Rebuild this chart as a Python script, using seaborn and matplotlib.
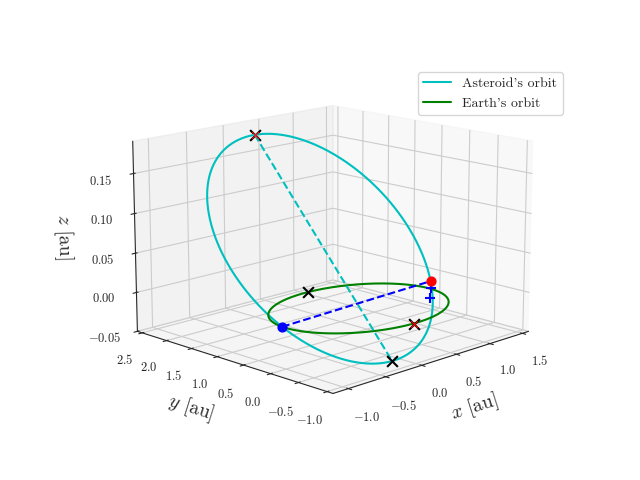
import numpy as np
import matplotlib
matplotlib.use("Agg")
import matplotlib.pyplot as plt
import seaborn as sns

sns.set_style("white")
plt.rcParams["mathtext.fontset"] = "cm"
plt.rcParams["font.family"] = "serif"
plt.rcParams["font.serif"] = ["cmr10"]
plt.rcParams["axes.formatter.use_mathtext"] = True

# orbital elements (asteroid)
q_ast = 0.647          # perihelion distance [au]
Q_ast = 2.2            # aphelion distance [au]
inc_deg = 4.7
node_deg = -4.0
argp_deg = -90.0
# Earth circle radius
r_earth = 1.0
# marker positions
red_dot_u_deg = 5.0            # argument of latitude of the red dot
blue_dot_u_deg = 180.0         # descending node
plus_z = [-0.002, -0.014]
earth_x_theta_deg = [-92.0, 88.0]   # [red-black x, black x] on Earth's orbit

a = (q_ast + Q_ast) / 2
e = (Q_ast - q_ast) / (Q_ast + q_ast)
i = np.radians(inc_deg); O = np.radians(node_deg); w = np.radians(argp_deg)


def orbit(u):
    nu = u - w
    r = a * (1 - e**2) / (1 + e * np.cos(nu))
    x = r * (np.cos(O) * np.cos(u) - np.sin(O) * np.sin(u) * np.cos(i))
    y = r * (np.sin(O) * np.cos(u) + np.cos(O) * np.sin(u) * np.cos(i))
    z = r * np.sin(u) * np.sin(i)
    return x, y, z


t = np.linspace(0, 2 * np.pi, 500)
xa, ya, za = orbit(t)
xe, ye, ze = r_earth * np.cos(t), r_earth * np.sin(t), 0 * t
peri = orbit(w)
apo = orbit(w + np.pi)
red = orbit(np.radians(red_dot_u_deg))
blue = orbit(np.radians(blue_dot_u_deg))
ex = [(np.cos(np.radians(th)), np.sin(np.radians(th)), 0.0) for th in earth_x_theta_deg]

fig = plt.figure(figsize=(6.4, 4.8), dpi=100)
ax = fig.add_subplot(projection="3d")
ax.plot(xa, ya, za, color="c", label="Asteroid's orbit")
ax.plot(xe, ye, ze, color="g", label="Earth's orbit")
ax.plot([apo[0], peri[0]], [apo[1], peri[1]], [apo[2], peri[2]], "c--")
ax.plot([blue[0], red[0]], [blue[1], red[1]], [0, red[2]], "b--")
ax.scatter(*red, color="r", s=40, depthshade=False)
ax.scatter(*blue, color="b", s=40, depthshade=False)
for zp in plus_z:
    ax.scatter(red[0], red[1], zp, color="b", marker="+", s=60, depthshade=False)
for p in [peri, ex[1]]:
    ax.scatter(*p, color="k", marker="x", s=60, linewidths=1.5, depthshade=False)
for p in [apo, ex[0]]:
    ax.scatter(*p, color="k", marker="x", s=60, linewidths=1.5, depthshade=False)
    ax.scatter(*p, color="r", marker="x", s=25, linewidths=0.8, depthshade=False)

ax.set_xlim(-1.2, 1.6); ax.set_ylim(-1.1, 2.6); ax.set_zlim(-0.05, 0.19)
ax.set_xticks([-1.0, -0.5, 0.0, 0.5, 1.0, 1.5])
ax.set_yticks([-1.0, -0.5, 0.0, 0.5, 1.0, 1.5, 2.0, 2.5])
ax.set_zticks([-0.05, 0.0, 0.05, 0.1, 0.15])
ax.set_xlabel(r"$x$ [au]", fontsize=14)
ax.set_ylabel(r"$y$ [au]", fontsize=14)
ax.set_zlabel(r"$z$ [au]", fontsize=14)
ax.tick_params(labelsize=9)
ax.view_init(elev=14, azim=-135)
ax.set_box_aspect((4, 4, 2.8), zoom=1.16)
ax.legend(loc="upper right", fontsize=10, bbox_to_anchor=(0.89, 0.865),
          bbox_transform=fig.transFigure)
fig.savefig("out.png", dpi=100)
